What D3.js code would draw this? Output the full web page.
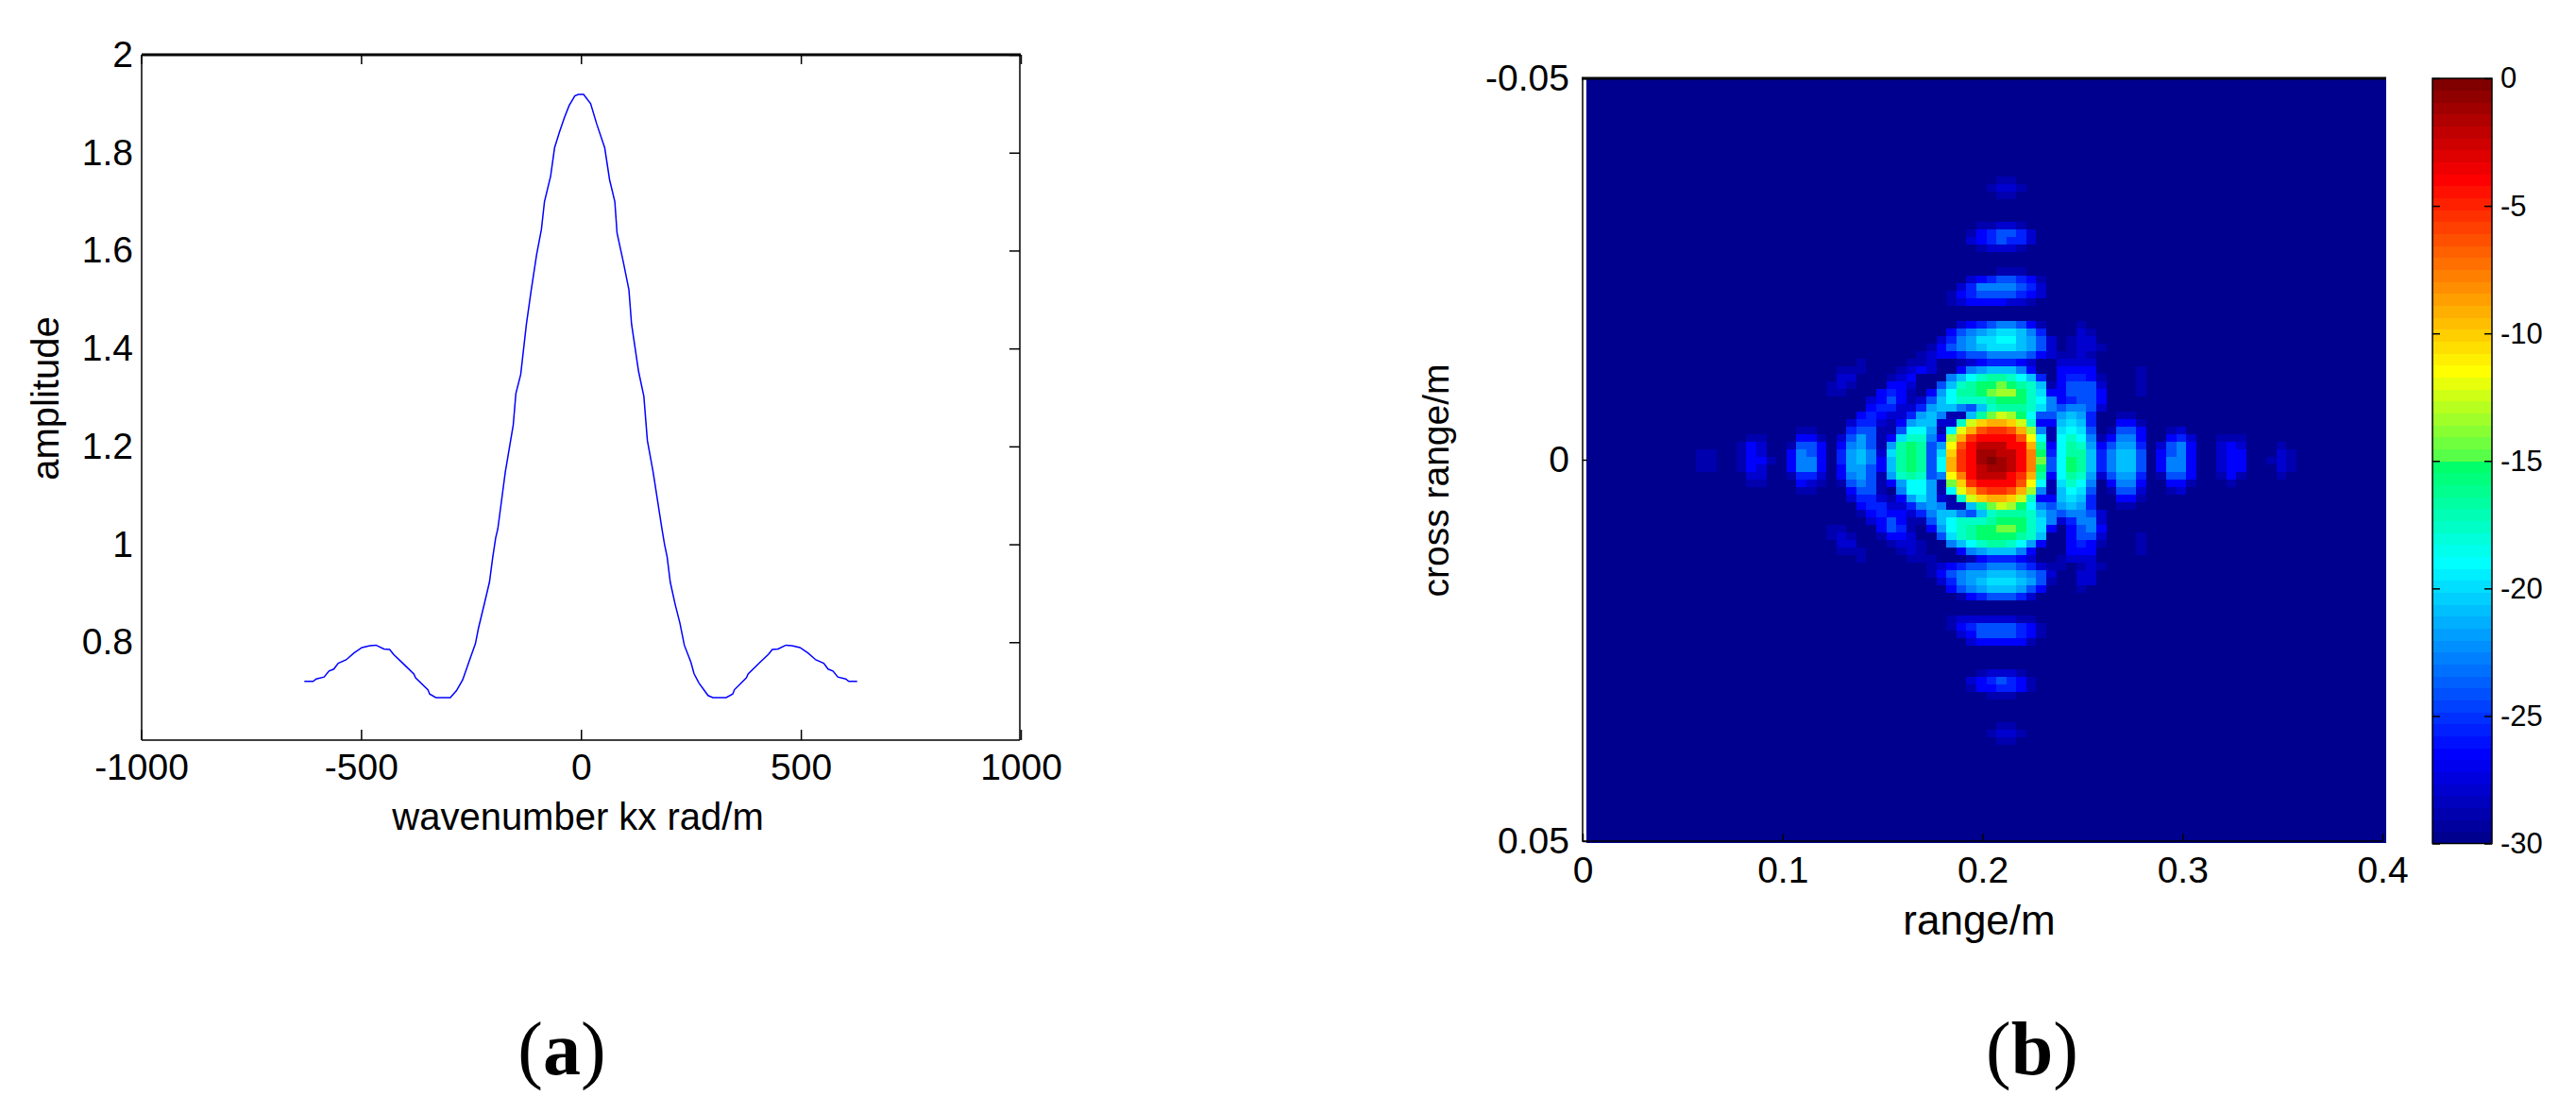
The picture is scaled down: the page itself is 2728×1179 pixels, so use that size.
<!DOCTYPE html>
<html>
<head>
<meta charset="utf-8">
<script src="https://cdn.jsdelivr.net/npm/d3@7"></script>
<style>
  html, body { margin: 0; background: #fff; }
  svg { display: block; }
  text { font-family: "Liberation Sans", Arial, sans-serif; fill: #000; }
</style>
</head>
<body>
<svg id="chart" width="2728" height="1179"></svg>
<script>
// panel (a) curve
const kxValues = [-629, -609, -602, -584, -573, -562, -552, -534, -516, -498, -480, -466, -448, -435, -426, -405, -380, -376, -348, -344, -330, -297, -283, -269, -255, -240, -233, -219, -208, -201, -194, -189, -172, -154, -148, -137, -124, -113, -101, -90, -83, -69, -60, -49, -38, -27, -14, -6, 6, 22, 36, 54, 65, 77, 82, 96, 109, 115, 131, 143, 151, 164, 184, 190, 196, 203, 214, 225, 235, 250, 257, 268, 289, 300, 330, 345, 349, 376, 380, 405, 426, 435, 448, 466, 480, 498, 516, 534, 552, 562, 573, 584, 602, 609, 628];
const ampValues = [0.720, 0.720, 0.725, 0.729, 0.741, 0.745, 0.757, 0.764, 0.778, 0.789, 0.793, 0.794, 0.786, 0.785, 0.775, 0.757, 0.735, 0.727, 0.703, 0.694, 0.687, 0.687, 0.701, 0.723, 0.759, 0.797, 0.829, 0.881, 0.923, 0.971, 1.013, 1.032, 1.148, 1.244, 1.308, 1.347, 1.450, 1.520, 1.591, 1.643, 1.700, 1.752, 1.810, 1.842, 1.871, 1.896, 1.916, 1.919, 1.919, 1.900, 1.858, 1.810, 1.745, 1.700, 1.636, 1.578, 1.520, 1.450, 1.353, 1.302, 1.212, 1.148, 1.032, 1.000, 0.974, 0.923, 0.878, 0.839, 0.794, 0.759, 0.736, 0.717, 0.691, 0.687, 0.687, 0.694, 0.703, 0.727, 0.735, 0.757, 0.775, 0.785, 0.786, 0.794, 0.793, 0.789, 0.778, 0.764, 0.757, 0.745, 0.741, 0.729, 0.725, 0.720, 0.720];
const kxTicks = [-1000, -500, 0, 500, 1000];
const ampTicks = [0.8, 1, 1.2, 1.4, 1.6, 1.8, 2];

// panel (b) axes
const rangeTicks = [0, 0.1, 0.2, 0.3, 0.4];
const crossTicks = [-0.05, 0, 0.05];
const dbTicks = [0, -5, -10, -15, -20, -25, -30];

// dB level of each letter used in heatRows
const levelChars = ".abcdefghijklmnopqrstuvwxyzZ";
const levelStripes = [0, 2, 4, 7, 9, 12, 15, 17, 19, 21, 23, 26, 28, 31, 33, 35, 37, 38, 39, 42, 44, 47, 50, 52, 55, 59, 61, 63];

// image rows 13 to 87, written as "column:letters"; everything else is the -30 dB floor
const firstHeatRow = 13;
const heatRows = [
  "41:aa", "40:abba", "41:aa", "", "", "",
  "39:aabba", "38:acdeedb", "38:bcdeddb", "39:abbba", "", "",
  "41:aaa",
  "38:bcdeedca",
  "37:bdffffedb",
  "36:acdeeeedcb",
  "36:abccccbba",
  "", "",
  "37:bcdeffeca 49:a",
  "36:cefghiihfd 49:ba",
  "35:bdfgiijjhgeb 48:abb",
  "34:acefghiiihgeb 48:abba",
  "33:abccdeeffffecbaaba",
  "27:a 32:aab 37:abcdddcb 47:bbbb",
  "25:aaa 31:abcb 37:cfghhhfc 47:cccc 55:a",
  "25:bb 30:abc 36:fhjkllkjhd 47:cddca 55:a",
  "24:aba 30:ccb 35:ehklmmnmlkhaceeeb 55:a",
  "24:aa 29:cdca 34:cgjllmnoomkicceeec 55:a",
  "28:bcecabehjkkklmmmkjfcdeec",
  "28:cddbbdghhfehklllkifeffeb",
  "27:cdcbbdghfaahlnpomjeeghgd 53:aa",
  "26:bddbacghhbbkpsttspkcchihd 53:cca",
  "21:aa 26:deeaaejjgajqtvwwvtofaijie 52:aeec 58:ab",
  "16:aa 21:cca 25:begeacikkfcotwxxxxvrjajkjfacffc 58:cdb 63:aaa",
  "15:acb 20:aeec 25:cfgeaglmlegrvxyyyxxtlcjlkgceggd 57:befc 63:bcb 69:a",
  "11:aa 15:acb 20:cfec 25:dghfbilmleiswxzzyyxumdjllhdfhhe 57:cefc 63:bcc 69:ba",
  "11:aa 15:acca 20:cffc 25:dghfchlmlejtwxzZzyxunejmlhdfhhe 57:cffc 63:bcc 68:aba",
  "11:aa 15:acb 20:cffc 25:cggechlmlejtwxyzzyxumejmlhdfhhe 57:cffc 63:bcc 69:ba",
  "16:bb 20:addb 25:cfgeagklkefruxyyyxwtlcjlkgbeggd 57:aeec 63:aca 69:a",
  "16:aa 21:cba 25:aefeacgjjganswxxxxvrjaikjf.cffc 58:cca 64:a",
  "21:aa 26:ceea.fjjgajqtvwwvtofahjie.aeeb 58:ab",
  "26:bddbacgigbakpsttspkcchihd 53:cca",
  "27:cddbbdfgfaahlnpomjfeghgd 53:aa",
  "27:acdccbdfhhfehklllkhfeffeb",
  "28:bcecaaehjkkklmmmkifbdffb",
  "24:aa 29:ceda 34:cgjklmmnnmkic.cefc",
  "24:aba 29:accb 35:eiklmmmmlkh 48:ceeb 55:a",
  "25:bb 30:abba 36:fhjkllkjgc 48:cdca 55:a",
  "25:aaa 31:aba 37:cfghhhfc 48:ccc 55:a",
  "27:a 32:aaa 38:acdddcb 47:abbb",
  "34:abcdeefffedbaa 49:aba",
  "34:acefgghhhgfeb 49:bb",
  "35:bdfghiiihgea 49:bb",
  "36:cefghhhgec 49:a",
  "37:acdeeedb",
  "", "",
  "36:abbbbbbaa",
  "36:acdeeeedca",
  "37:bceeeedca",
  "38:bccccca",
  "", "", "",
  "39:abbba", "38:bcdedca", "38:accddca", "40:aaa", "", "", "",
  "41:aa", "40:abba", "41:aa"
];

const heatCols = 80;
const heatRowCount = 101;
const stripeCount = 64;

const svg = d3.select("#chart");
const fontSize = 39;

// 64 stripe colormap, jet with the jump at the middle that the colorbar shows
const stripeColor = d3.scaleLinear()
    .domain([0, 7, 23, 31, 32, 39, 55, 63])
    .range(["#00008f", "#0000ff", "#00ffff", "#00ff6a", "#58ff48", "#ffff00", "#ff0000", "#800000"]);
const stripes = d3.range(stripeCount).map(i => stripeColor(i));
const color = d3.scaleQuantize().domain([-30, 0]).range(stripes);

function styleAxis(g, size) {
    g.selectAll("text").style("font-size", `${size}px`).style("font-family", '"Liberation Sans", Arial, sans-serif');
    g.selectAll("line").attr("stroke", "#000").attr("stroke-width", 1.5);
    g.select(".domain").remove();
}

// ---- panel (a) ----
const ax = d3.scaleLinear().domain([-1000, 1000]).range([149.5, 1081]);
const ay = d3.scaleLinear().domain([0.6, 2]).range([784, 58]);

const panelA = svg.append("g");

panelA.append("g")
    .attr("transform", "translate(0,784)")
    .call(d3.axisBottom(ax).tickValues(kxTicks).tickSize(-11).tickPadding(14).tickFormat(d => d))
    .call(g => styleAxis(g, fontSize));
panelA.append("g")
    .attr("transform", "translate(0,58)")
    .call(d3.axisTop(ax).tickValues(kxTicks).tickSize(-10).tickFormat(""))
    .call(g => styleAxis(g, fontSize));
panelA.append("g")
    .attr("transform", "translate(150,0)")
    .call(d3.axisLeft(ay).tickValues(ampTicks).tickSize(0).tickPadding(9).tickFormat(d => d))
    .call(g => styleAxis(g, fontSize));
panelA.append("g")
    .attr("transform", "translate(1080,0)")
    .call(d3.axisRight(ay).tickValues(ampTicks).tickSize(-11).tickFormat(""))
    .call(g => styleAxis(g, fontSize));

panelA.append("path")
    .attr("d", `M150,784V58M1080,58V784M150,784H1080`)
    .attr("fill", "none").attr("stroke", "#000").attr("stroke-width", 1.5);
panelA.append("line")
    .attr("x1", 150).attr("x2", 1081).attr("y1", 58).attr("y2", 58)
    .attr("stroke", "#000").attr("stroke-width", 3);

const curve = d3.line()
    .x((d, i) => ax(kxValues[i]))
    .y(d => ay(d));
panelA.append("path")
    .datum(ampValues)
    .attr("d", curve)
    .attr("fill", "none")
    .attr("stroke", "#0000ff")
    .attr("stroke-width", 1.5);

panelA.append("text")
    .attr("x", 612).attr("y", 879)
    .attr("text-anchor", "middle")
    .style("font-size", "40px")
    .text("wavenumber kx rad/m");
panelA.append("text")
    .attr("transform", "translate(62,422) rotate(-90)")
    .attr("text-anchor", "middle")
    .style("font-size", `${fontSize + 1}px`)
    .text("amplitude");

// ---- panel (b) ----
const bx = d3.scaleLinear().domain([0, 0.4]).range([1676, 2523]);
const by = d3.scaleLinear().domain([-0.05, 0.05]).range([83, 891]);
const colBand = d3.scaleBand().domain(d3.range(heatCols)).range([1680, 2527]);
const rowBand = d3.scaleBand().domain(d3.range(heatRowCount)).range([83, 893]);

const cells = [];
heatRows.forEach((row, i) => {
    row.split(" ").filter(Boolean).forEach(run => {
        const [start, letters] = run.split(":");
        letters.split("").forEach((ch, j) => {
            if (ch === ".") return;
            const stripe = levelStripes[levelChars.indexOf(ch)];
            cells.push({row: firstHeatRow + i, col: +start + j, db: (stripe + 0.5) * 30 / stripeCount - 30});
        });
    });
});

const panelB = svg.append("g");

panelB.append("rect")
    .attr("x", colBand.range()[0]).attr("y", rowBand.range()[0])
    .attr("width", colBand.range()[1] - colBand.range()[0])
    .attr("height", rowBand.range()[1] - rowBand.range()[0])
    .attr("fill", color(-30));

panelB.selectAll(".cell")
    .data(cells)
    .enter().append("rect")
    .attr("class", "cell")
    .attr("x", d => colBand(d.col))
    .attr("y", d => rowBand(d.row))
    .attr("width", colBand.bandwidth())
    .attr("height", rowBand.bandwidth())
    .attr("shape-rendering", "crispEdges")
    .attr("fill", d => color(d.db));

panelB.append("g")
    .attr("transform", "translate(0,891)")
    .call(d3.axisBottom(bx).tickValues(rangeTicks).tickSize(-8).tickPadding(16).tickFormat(d => d))
    .call(g => styleAxis(g, fontSize));
panelB.append("g")
    .attr("transform", "translate(1676,0)")
    .call(d3.axisLeft(by).tickValues(crossTicks).tickSize(-5).tickPadding(14).tickFormat(d => d))
    .call(g => styleAxis(g, fontSize));

panelB.append("path")
    .attr("d", "M1676,83V891H2523")
    .attr("fill", "none").attr("stroke", "#000").attr("stroke-width", 1.5);
panelB.append("line")
    .attr("x1", 1675).attr("x2", 2527).attr("y1", 83).attr("y2", 83)
    .attr("stroke", "#000").attr("stroke-width", 3);

panelB.append("text")
    .attr("x", 2096).attr("y", 990)
    .attr("text-anchor", "middle")
    .style("font-size", "44px")
    .text("range/m");
panelB.append("text")
    .attr("transform", "translate(1534,509) rotate(-90)")
    .attr("text-anchor", "middle")
    .style("font-size", `${fontSize}px`)
    .text("cross range/m");

// ---- colorbar ----
const barY = d3.scaleLinear().domain([-30, 0]).range([893.5, 83]);
const barLeft = 2576, barRight = 2639;

const bar = svg.append("g");
bar.selectAll("rect")
    .data(stripes)
    .enter().append("rect")
    .attr("x", barLeft)
    .attr("width", barRight - barLeft)
    .attr("y", (d, i) => barY(-30 + (i + 1) * 30 / stripeCount))
    .attr("height", (barY(-30) - barY(0)) / stripeCount + 0.5)
    .attr("shape-rendering", "crispEdges")
    .attr("fill", d => d);

bar.append("rect")
    .attr("x", barLeft).attr("y", barY(0))
    .attr("width", barRight - barLeft).attr("height", barY(-30) - barY(0))
    .attr("fill", "none").attr("stroke", "#000").attr("stroke-width", 1.5);

bar.append("g")
    .attr("transform", `translate(${barRight},0)`)
    .call(d3.axisRight(barY).tickValues(dbTicks).tickSize(-8).tickPadding(9).tickFormat(d => d))
    .call(g => styleAxis(g, 31));
bar.append("g")
    .attr("transform", `translate(${barLeft},0)`)
    .call(d3.axisLeft(barY).tickValues(dbTicks).tickSize(-8).tickFormat(""))
    .call(g => styleAxis(g, 31));

// ---- panel captions ----
const captions = [{x: 595, letter: "a"}, {x: 2152, letter: "b"}];
captions.forEach(c => {
    const t = svg.append("text")
        .attr("x", c.x).attr("y", 1138)
        .attr("text-anchor", "middle")
        .style("font-family", '"Liberation Serif", "Times New Roman", serif')
        .style("font-size", "80px");
    t.append("tspan").text("(");
    t.append("tspan").style("font-weight", "bold").text(c.letter);
    t.append("tspan").text(")");
});
</script>
</body>
</html>
